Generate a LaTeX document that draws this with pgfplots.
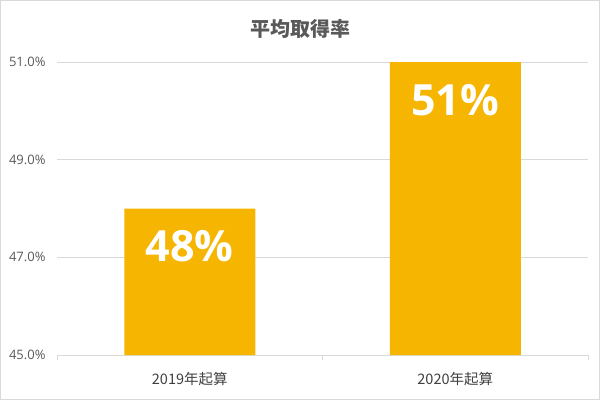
\documentclass[border=0pt]{standalone}
\usepackage{pgfplots}
\pgfplotsset{compat=1.18}
\usepackage{fontspec}
\setmainfont{Open Sans}
\newfontfamily\cjk{Noto Sans CJK JP}
\newfontfamily\cjkm{Noto Sans CJK JP Medium}
\definecolor{barc}{HTML}{F6B500}
\definecolor{txt}{HTML}{595959}
\definecolor{txtd}{HTML}{404040}
\definecolor{grid}{HTML}{D9D9D9}
\begin{document}
\begin{tikzpicture}[x=1bp,y=1bp]
\useasboundingbox (0,0) rectangle (600,400);
\draw[color=grid,line width=1bp] (0.5,0.5) rectangle (599.5,399.5);
\node[text=txt,font=\cjk\bfseries\fontsize{20bp}{24bp}\selectfont] at (300,371) {平均取得率};
\begin{axis}[
  at={(57bp,45bp)}, anchor=south west,
  scale only axis, width=531bp, height=293bp,
  xmin=-0.5, xmax=1.5, ymin=45, ymax=51,
  xtick={0,1}, xticklabels={2019年起算,2020年起算},
  minor xtick={-0.5,0.5,1.5},
  ytick={45,47,49,51},
  yticklabels={45.0\%,47.0\%,49.0\%,51.0\%},
  major tick length=0pt, minor tick length=5bp,
  tick align=outside, xtick pos=bottom, ytick pos=left,
  minor tick style={color=grid, line width=0.8bp},
  axis line style={draw=none},
  ymajorgrids, grid style={color=grid,line width=0.8bp},
  /pgf/number format/assume math mode=true,
  xticklabel style={font=\cjk\fontsize{14.5bp}{17bp}\selectfont, text=txtd, yshift=-14bp},
  yticklabel style={font=\fontsize{13bp}{15bp}\selectfont, text=txt, xshift=-8bp},
  ybar, bar width=131bp,
  nodes near coords={\pgfmathprintnumber{\pgfplotspointmeta}\%},
  point meta=y,
  every node near coord/.append style={anchor=center, yshift=-38bp, text=white, font=\bfseries\fontsize{43bp}{48bp}\selectfont},
  clip=false,
]
\addplot[fill=barc, draw=none] coordinates {(0,48) (1,51)};
\end{axis}
\end{tikzpicture}
\end{document}
